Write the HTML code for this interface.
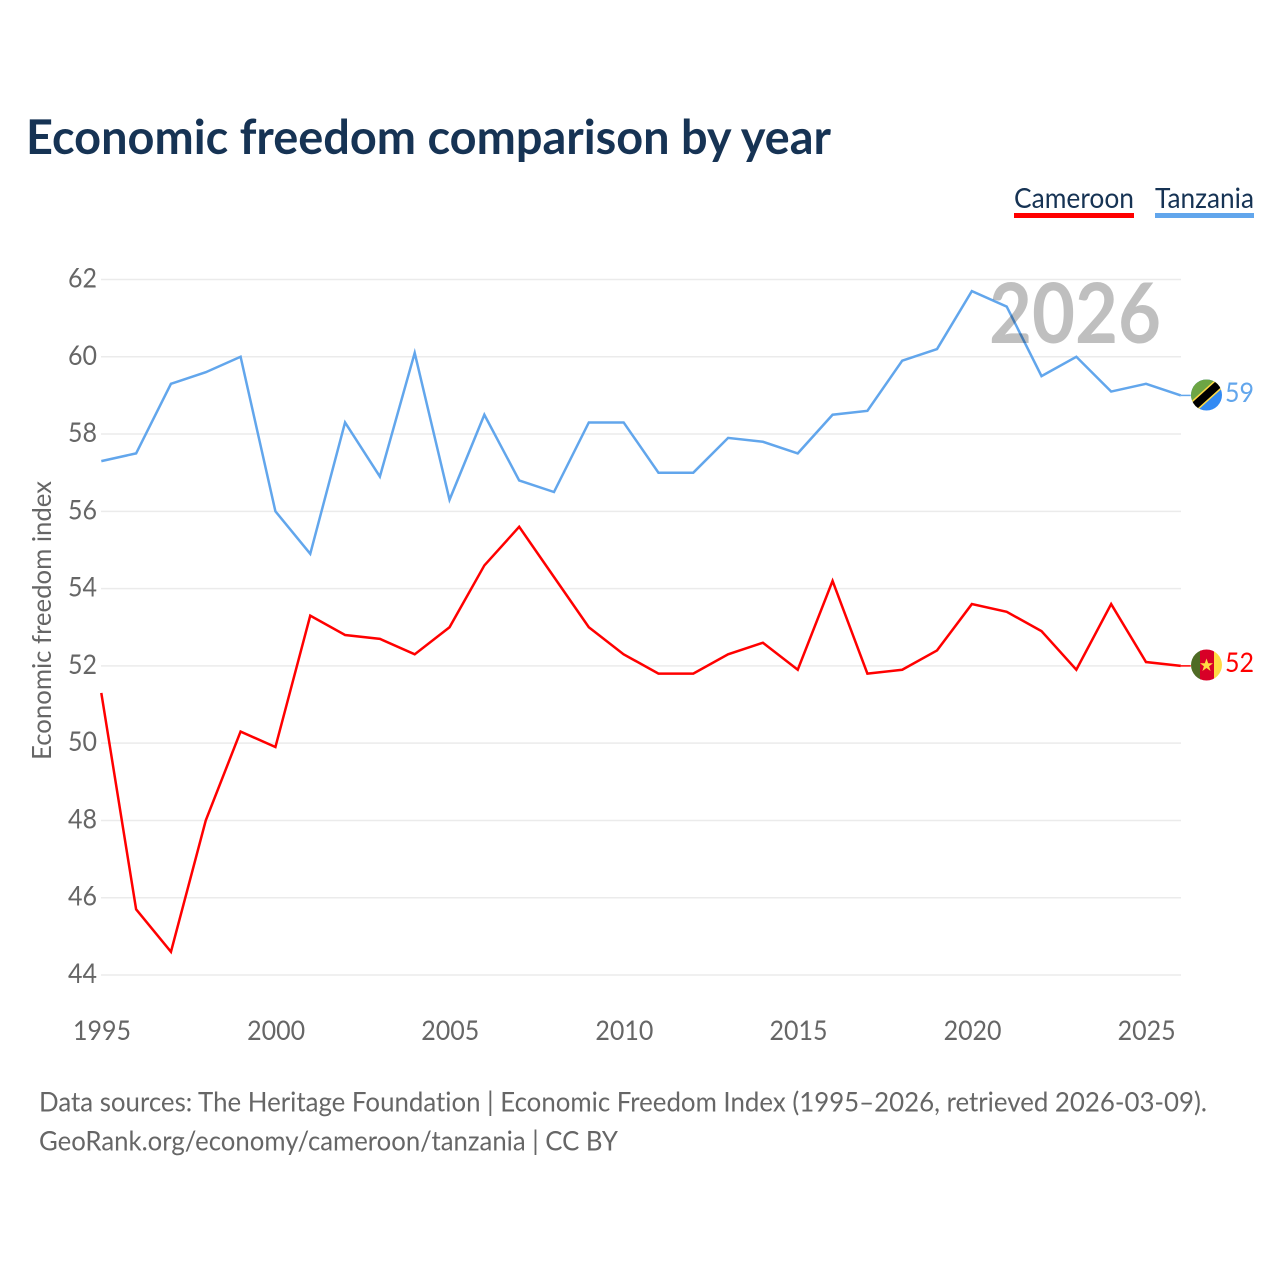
<!DOCTYPE html>
<html lang="en">
<head>
<meta charset="utf-8">
<title>Economic freedom comparison by year</title>
<style>
html,body{margin:0;padding:0;background:#fff;}
svg{display:block;font-family:"Lato","Carlito","Liberation Sans",sans-serif;font-variant-ligatures:none;}
</style>
</head>
<body>
<svg id="chart" xmlns="http://www.w3.org/2000/svg" width="1280" height="1280" viewBox="0 0 1280 1280">
  <defs>
    <clipPath id="flag-clip-tz"><circle cx="1206.5" cy="395" r="15.5"/></clipPath>
    <clipPath id="flag-clip-cm"><circle cx="1206.5" cy="665" r="15.5"/></clipPath>
  </defs>
  <rect x="0" y="0" width="1280" height="1280" fill="#fff"/>
  <text x="26" y="154" font-size="48" font-weight="700" fill="#163354" textLength="805" lengthAdjust="spacingAndGlyphs">Economic freedom comparison by year</text>

  <g>
    <text x="1014" y="208" font-size="28" fill="#163354" textLength="120" lengthAdjust="spacingAndGlyphs">Cameroon</text>
    <rect x="1014" y="213" width="120" height="5" fill="#ff0000"/>
  </g>
  <g>
    <text x="1155" y="208" font-size="28" fill="#163354" textLength="99" lengthAdjust="spacingAndGlyphs">Tanzania</text>
    <rect x="1155" y="213" width="99" height="5" fill="#62a6ec"/>
  </g>

  <g id="grid"></g>
  <g id="yticks"></g>
  <g id="xticks"></g>
  <text transform="translate(51 760) rotate(-90)" x="0" y="0" font-size="26" fill="#666" textLength="279" lengthAdjust="spacingAndGlyphs">Economic freedom index</text>

  <g id="series"></g>

  <text x="1161" y="343" text-anchor="end" font-size="83" font-weight="700" fill="#000" fill-opacity="0.25" textLength="172" lengthAdjust="spacingAndGlyphs">2026</text>

  <g clip-path="url(#flag-clip-tz)">
    <rect x="1190" y="378" width="33" height="34" fill="#338af3"/>
    <polygon points="1190,412 1190,378 1228,378" fill="#6da544"/>
    <rect x="1186" y="389.5" width="41" height="11" fill="#ffda44" transform="rotate(-42 1206.5 395)"/>
    <rect x="1186" y="391" width="41" height="8" fill="#000" transform="rotate(-42 1206.5 395)"/>
  </g>
  <g clip-path="url(#flag-clip-cm)">
    <rect x="1190" y="649" width="11" height="32" fill="#4f6b25"/>
    <rect x="1200" y="649" width="14" height="32" fill="#d80027"/>
    <rect x="1214" y="649" width="10" height="32" fill="#ffda44"/>
    <polygon points="1206.5,658.5 1208.2,663.3 1213,663.3 1209.1,666.2 1210.6,671 1206.5,668 1202.4,671 1203.9,666.2 1200,663.3 1204.8,663.3" fill="#ffda44"/>
  </g>
  <text id="end-tanzania" x="1225" y="402" font-size="27" fill="#62a6ec" textLength="29" lengthAdjust="spacingAndGlyphs"></text>
  <text id="end-cameroon" x="1225" y="672" font-size="27" fill="#ff0000" textLength="29" lengthAdjust="spacingAndGlyphs"></text>

  <g font-size="27" fill="#666">
    <text x="39" y="1111.5" textLength="1168" lengthAdjust="spacingAndGlyphs">Data sources: The Heritage Foundation | Economic Freedom Index (1995–2026, retrieved 2026-03-09).</text>
    <a><text x="39" y="1150.5" textLength="579" lengthAdjust="spacingAndGlyphs">GeoRank.org/economy/cameroon/tanzania | CC BY</text></a>
  </g>
</svg>
<script>
const years = [1995,1996,1997,1998,1999,2000,2001,2002,2003,2004,2005,2006,2007,2008,2009,2010,2011,2012,2013,2014,2015,2016,2017,2018,2019,2020,2021,2022,2023,2024,2025,2026];
const cameroon = [51.3,45.7,44.6,48.0,50.3,49.9,53.3,52.8,52.7,52.3,53.0,54.6,55.6,54.3,53.0,52.3,51.8,51.8,52.3,52.6,51.9,54.2,51.8,51.9,52.4,53.6,53.4,52.9,51.9,53.6,52.1,52.0];
const tanzania = [57.3,57.5,59.3,59.6,60.0,56.0,54.9,58.3,56.9,60.1,56.3,58.5,56.8,56.5,58.3,58.3,57.0,57.0,57.9,57.8,57.5,58.5,58.6,59.9,60.2,61.7,61.3,59.5,60.0,59.1,59.3,59.0];
const yTicks = [44,46,48,50,52,54,56,58,60,62];
const xTicks = [1995,2000,2005,2010,2015,2020,2025];

const NS = 'http://www.w3.org/2000/svg';
function xScale(year){ return 101.3 + (year - 1995) * (1180.8 - 101.3) / 31; }
function yScale(v){ return 975 - (v - 44) * (975 - 279.5) / 18; }

const grid = document.getElementById('grid');
const yGroup = document.getElementById('yticks');
const xGroup = document.getElementById('xticks');
const seriesGroup = document.getElementById('series');

yTicks.forEach(function(t){
  const line = document.createElementNS(NS, 'line');
  
  
  line.setAttribute('x1', 101);
  line.setAttribute('x2', 1181);
  line.setAttribute('y1', yScale(t));
  line.setAttribute('y2', yScale(t));
  line.setAttribute('stroke', '#ebebeb');
  line.setAttribute('stroke-width', 1.5);
  grid.appendChild(line);

  const label = document.createElementNS(NS, 'text');
  
  
  label.setAttribute('x', 97);
  label.setAttribute('y', yScale(t) + 8);
  label.setAttribute('text-anchor', 'end');
  label.setAttribute('font-size', 27);
  label.setAttribute('fill', '#666');
  label.setAttribute('textLength', 29);
  label.setAttribute('lengthAdjust', 'spacingAndGlyphs');
  label.textContent = t;
  yGroup.appendChild(label);
});

xTicks.forEach(function(t){
  const label = document.createElementNS(NS, 'text');
  
  
  label.setAttribute('x', xScale(t) + 0.7);
  label.setAttribute('y', 1040);
  label.setAttribute('text-anchor', 'middle');
  label.setAttribute('font-size', 27);
  label.setAttribute('fill', '#666');
  label.setAttribute('textLength', 58);
  label.setAttribute('lengthAdjust', 'spacingAndGlyphs');
  label.textContent = t;
  xGroup.appendChild(label);
});

function drawSeries(values, color, name){
  const pts = values.map(function(v, i){ return xScale(years[i]).toFixed(2) + ',' + yScale(v).toFixed(2); });
  const line = document.createElementNS(NS, 'polyline');
  
  
  line.setAttribute('points', pts.join(' '));
  line.setAttribute('fill', 'none');
  line.setAttribute('stroke', color);
  line.setAttribute('stroke-width', 2.5);
  line.setAttribute('stroke-linejoin', 'miter');
  seriesGroup.appendChild(line);

  const last = values[values.length - 1];
  const connector = document.createElementNS(NS, 'line');
  
  
  connector.setAttribute('x1', xScale(years[years.length - 1]));
  connector.setAttribute('x2', xScale(years[years.length - 1]) + 10);
  connector.setAttribute('y1', yScale(last));
  connector.setAttribute('y2', yScale(last));
  connector.setAttribute('stroke', color);
  connector.setAttribute('stroke-width', 1.5);
  seriesGroup.appendChild(connector);
}
drawSeries(tanzania, '#62a6ec', 'line-tanzania');
drawSeries(cameroon, '#ff0000', 'line-cameroon');

document.getElementById('end-tanzania').textContent = Math.round(tanzania[tanzania.length - 1]);
document.getElementById('end-cameroon').textContent = Math.round(cameroon[cameroon.length - 1]);
</script>
</body>
</html>
